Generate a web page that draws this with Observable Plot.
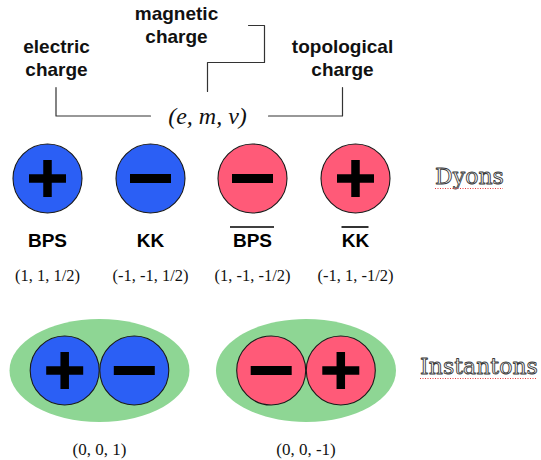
<!DOCTYPE html>
<html><head><meta charset="utf-8">
<script src="https://cdn.jsdelivr.net/npm/d3@7"></script>
<script src="https://cdn.jsdelivr.net/npm/@observablehq/plot@0.6"></script>
<style>body{margin:0;background:#fff}</style>
</head><body><div id="chart"></div>
<script>
// ---- content ----
const dyonNames = ["BPS", "KK", "BPS", "KK"];
const dyonBarred = [false, false, true, true];
const dyonSigns = ["+", "−", "−", "+"];
const dyonKinds = ["particle", "particle", "anti", "anti"];
const dyonCharges = ["(1, 1, 1/2)", "(-1, -1, 1/2)", "(1, -1, -1/2)", "(-1, 1, -1/2)"];
const instantonSigns = [["+", "−"], ["−", "+"]];
const instantonKinds = ["particle", "anti"];
const instantonCharges = ["(0, 0, 1)", "(0, 0, -1)"];
const chargeLabels = ["electric\ncharge", "magnetic\ncharge", "topological\ncharge"];
const tupleLabel = "(e, m, ν)";
const rowLabels = ["Dyons", "Instantons"];

// ---- layout (diagram units) ----
const dyonX = [47, 150, 252, 355], dyonY = 178, nameY = 240, dyonChargeY = 275;
const instX = [99, 305.5], instY = 370, instOff = 34.8, instChargeY = 449;
const chargeLabelPos = [[56, 57], [176, 23.5], [342, 57]];
const tuplePos = [207, 116];
const bracketPaths = [
  [[55.5, 87], [55.5, 115.5], [150, 115.5]],
  [[207, 91], [207, 62], [264, 62], [264, 25], [248, 25]],
  [[268, 115.5], [342, 115.5], [342, 87]]
];
const rowLabelPos = [[469, 176], [478.5, 366]];
const rowLabelWidth = [68, 117];
const overlineHalf = [0, 0, 22, 13.5];

// ---- custom symbols ----
const plusSym = {draw(ctx, size) {
  const a = Math.sqrt(size / Math.PI), t = 4.25;
  ctx.moveTo(-a, -t); ctx.lineTo(-t, -t); ctx.lineTo(-t, -a); ctx.lineTo(t, -a); ctx.lineTo(t, -t);
  ctx.lineTo(a, -t); ctx.lineTo(a, t); ctx.lineTo(t, t); ctx.lineTo(t, a); ctx.lineTo(-t, a);
  ctx.lineTo(-t, t); ctx.lineTo(-a, t); ctx.closePath();
}};
const minusSym = {draw(ctx, size) {
  const a = Math.sqrt(size / Math.PI), t = 4.5;
  ctx.moveTo(-a, -t); ctx.lineTo(a, -t); ctx.lineTo(a, t); ctx.lineTo(-a, t); ctx.closePath();
}};
const ellipseSym = {draw(ctx, size) {
  const ry = Math.sqrt(size / Math.PI), rx = ry * 90 / 51.5, k = 0.5523;
  ctx.moveTo(rx, 0);
  ctx.bezierCurveTo(rx, k * ry, k * rx, ry, 0, ry);
  ctx.bezierCurveTo(-k * rx, ry, -rx, k * ry, -rx, 0);
  ctx.bezierCurveTo(-rx, -k * ry, -k * rx, -ry, 0, -ry);
  ctx.bezierCurveTo(k * rx, -ry, rx, -k * ry, rx, 0);
  ctx.closePath();
}};

// ---- tables ----
const dyons = dyonNames.map((name, i) => ({name, barred: dyonBarred[i], sign: dyonSigns[i], kind: dyonKinds[i], charge: dyonCharges[i], x: dyonX[i], y: dyonY}));
const instantons = instantonKinds.map((kind, i) => ({kind, charge: instantonCharges[i], x: instX[i], y: instY}));
const instBalls = instantonSigns.flatMap((pair, i) => pair.map((sign, j) => ({sign, kind: instantonKinds[i], x: instX[i] + (j === 0 ? -instOff : instOff), y: instY})));
const balls = [...dyons, ...instBalls];
const brackets = bracketPaths.flatMap((p, k) => p.map(([x, y]) => ({k, x, y})));
const labels = chargeLabels.map((text, i) => ({text, x: chargeLabelPos[i][0], y: chargeLabelPos[i][1]}));
const rows = rowLabels.map((text, i) => ({text, x: rowLabelPos[i][0], y: rowLabelPos[i][1], w: rowLabelWidth[i]}));
const bars = dyons.map((d, i) => ({...d, h: overlineHalf[i]})).filter(d => d.barred);

const colorScale = {domain: ["particle", "anti"], range: ["#2b5ff5", "#ff5a78"]};

const svg = Plot.plot({
  width: 541, height: 460, margin: 0,
  x: {domain: [0, 541], range: [0, 541], axis: null},
  y: {domain: [0, 460], range: [0, 460], axis: null},
  color: colorScale,
  style: {background: "#fff"},
  marks: [
    // brackets
    Plot.line(brackets, {x: "x", y: "y", z: "k", stroke: "#333", strokeWidth: 1.2, curve: "linear"}),
    Plot.text(labels, {x: "x", y: "y", text: "text", fontSize: 19, fontWeight: "bold", fontFamily: "Liberation Sans, Arial, sans-serif", lineHeight: 1.2, fill: "#111"}),
    Plot.text([tupleLabel], {x: () => tuplePos[0], y: () => tuplePos[1], text: d => d, fontSize: 24, fontStyle: "italic", fontFamily: "Liberation Serif, Times New Roman, serif", fill: "#111"}),
    // instanton halos
    Plot.dot(instantons, {x: "x", y: "y", r: 51.5, symbol: ellipseSym, fill: "#8ed694", stroke: "none"}),
    // balls
    Plot.dot(balls, {x: "x", y: "y", r: 34.5, fill: "kind", stroke: "#1a1a1a", strokeWidth: 1.1}),
    Plot.dot(balls.filter(d => d.sign === "+"), {x: "x", y: "y", r: 18.5, symbol: plusSym, fill: "#000", stroke: "none"}),
    Plot.dot(balls.filter(d => d.sign === "−"), {x: "x", y: "y", r: 20.5, symbol: minusSym, fill: "#000", stroke: "none"}),
    // dyon names + overlines
    Plot.text(dyons, {x: "x", y: () => nameY, text: "name", fontSize: 19, fontWeight: "bold", fontFamily: "Liberation Sans, Arial, sans-serif", fill: "#000"}),
    Plot.ruleY(bars, {x1: d => d.x - d.h, x2: d => d.x + d.h, y: () => nameY - 13.5, stroke: "#000", strokeWidth: 1.6}),
    // charges
    Plot.text(dyons, {x: "x", y: () => dyonChargeY, text: "charge", fontSize: 16.5, fontFamily: "Liberation Serif, Times New Roman, serif", fill: "#111"}),
    Plot.text(instantons, {x: "x", y: () => instChargeY, text: "charge", fontSize: 17, fontFamily: "Liberation Serif, Times New Roman, serif", fill: "#111"}),
    // row labels (outlined)
    Plot.text(rows, {x: "x", y: "y", text: "text", fontSize: 22, fontFamily: "DejaVu Serif, serif", fill: "#fff", stroke: "#3a3a3a", strokeWidth: 0.9, paintOrder: "fill"}),
    Plot.ruleY(rows, {x1: d => d.x - d.w / 2, x2: d => d.x + d.w / 2, y: d => d.y + 12, stroke: "#e5393a", strokeWidth: 1.2, strokeDasharray: "1,1.5"})
  ]
});
document.getElementById("chart").appendChild(svg);
</script>
</body></html>
